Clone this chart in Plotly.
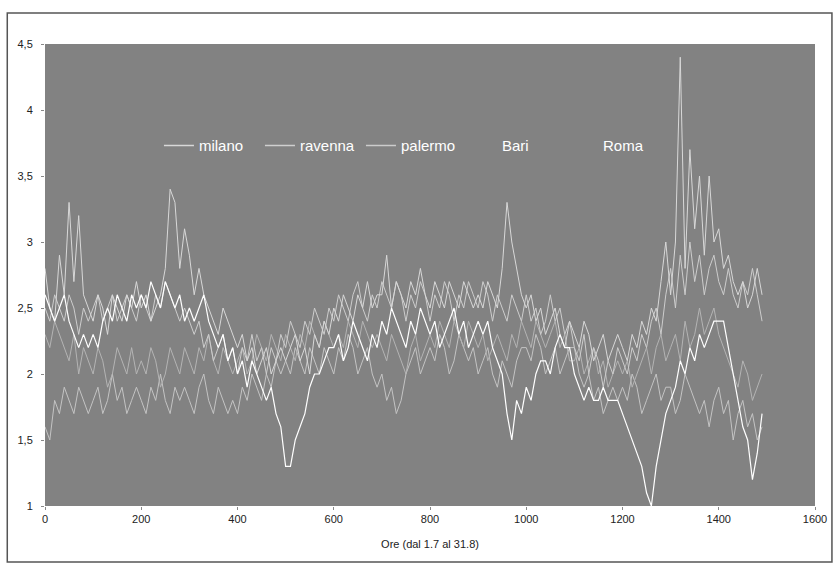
import plotly.graph_objects as go

hours = list(range(0, 1500, 10))

milano = [
    2.6, 2.5, 2.4, 2.5, 2.6, 2.4, 2.3, 2.2, 2.3, 2.2,
    2.3, 2.2, 2.4, 2.5, 2.4, 2.6, 2.5, 2.4, 2.6, 2.5,
    2.6, 2.5, 2.7, 2.6, 2.5, 2.7, 2.6, 2.5, 2.6, 2.4,
    2.5, 2.4, 2.5, 2.6, 2.4, 2.3, 2.2, 2.3, 2.1, 2.2,
    2.0, 2.1, 1.9, 2.1, 2.0, 1.9, 1.8, 1.9, 1.7, 1.6,
    1.3, 1.3, 1.5, 1.6, 1.7, 1.9, 2.0, 2.0, 2.1, 2.2,
    2.2, 2.3, 2.1, 2.2, 2.4, 2.3, 2.2, 2.1, 2.3, 2.2,
    2.4, 2.3, 2.5, 2.4, 2.3, 2.2, 2.4, 2.3, 2.5, 2.4,
    2.3, 2.4, 2.2, 2.3, 2.4, 2.5, 2.3, 2.4, 2.2, 2.3,
    2.4, 2.3, 2.4, 2.2, 2.1, 2.0, 1.7, 1.5, 1.8, 1.7,
    1.9, 1.8, 2.0, 2.1, 2.1, 2.0, 2.2, 2.3, 2.2, 2.2,
    2.0, 1.9, 1.8, 1.9, 1.8, 1.8, 1.9, 1.8, 1.8, 1.8,
    1.7, 1.6, 1.5, 1.4, 1.3, 1.1, 1.0, 1.3, 1.5, 1.7,
    1.8, 1.9, 2.1, 2.0, 2.2, 2.1, 2.3, 2.2, 2.3, 2.4,
    2.4, 2.4, 2.2, 2.0, 1.8, 1.6, 1.5, 1.2, 1.4, 1.7,
]

ravenna = [
    2.8, 2.5, 2.4, 2.9, 2.6, 3.3, 2.7, 3.2, 2.6, 2.5,
    2.4, 2.6, 2.5, 2.3, 2.6, 2.5, 2.4, 2.6, 2.5, 2.7,
    2.5, 2.6, 2.4, 2.5, 2.6, 2.8, 3.4, 3.3, 2.8, 3.1,
    2.9, 2.6, 2.8, 2.6, 2.5, 2.4, 2.3, 2.5, 2.4, 2.3,
    2.2, 2.3, 2.1, 2.2, 2.0, 2.1, 2.2, 2.0, 2.1, 2.2,
    2.1, 2.2, 2.3, 2.1, 2.2, 2.0, 2.3, 2.2, 2.4, 2.3,
    2.5, 2.4, 2.6, 2.5, 2.4, 2.6, 2.5, 2.7, 2.5, 2.6,
    2.6, 2.9, 2.5, 2.7, 2.6, 2.5, 2.7, 2.6, 2.8, 2.6,
    2.5, 2.7, 2.6, 2.5, 2.7, 2.6, 2.5, 2.7, 2.6, 2.5,
    2.6, 2.5, 2.7, 2.6, 2.5, 2.8, 3.3, 3.0, 2.8, 2.6,
    2.5, 2.6, 2.4, 2.5, 2.3, 2.4, 2.5, 2.3, 2.2, 2.4,
    2.3, 2.2, 2.4, 2.3, 2.1, 2.2, 2.3, 2.1, 2.2, 2.3,
    2.2, 2.1, 2.3, 2.2, 2.4, 2.3, 2.5, 2.4, 2.7, 3.0,
    2.6, 3.0, 4.4, 2.8, 3.7, 3.1, 3.5, 2.9, 3.5, 3.0,
    3.1, 2.8, 2.9, 2.7, 2.6, 2.7, 2.5, 2.6, 2.8, 2.6,
]

palermo = [
    1.6, 1.5, 1.8, 1.7, 1.9, 1.8, 1.7, 1.9, 1.8, 1.7,
    1.8, 1.9, 1.7, 1.8, 2.0, 1.8, 1.9, 1.7, 1.8, 1.9,
    1.8, 1.7, 1.9, 1.8, 2.0, 1.8, 1.7, 1.9, 1.8, 1.9,
    1.8, 1.7, 1.9, 2.0, 1.8, 1.7, 1.9, 1.8, 1.7, 1.8,
    1.7, 1.9, 1.8, 2.0, 1.9, 1.8, 2.0, 1.9, 2.1, 2.0,
    2.1, 2.0, 2.2, 2.1, 2.0, 2.2, 2.1, 2.0, 2.2, 2.1,
    2.0, 2.2, 2.1, 2.3, 2.2, 2.0, 2.1, 2.2, 2.0, 1.9,
    2.0, 1.8, 1.9, 1.7, 1.8, 2.0, 2.1, 2.2, 2.0, 2.1,
    2.2, 2.1, 2.3, 2.2, 2.0, 2.1, 2.3, 2.2, 2.1, 2.2,
    2.0, 2.1, 2.2, 2.0, 1.9, 2.1, 2.0, 1.9, 2.1, 2.2,
    2.2, 2.1, 2.3, 2.2, 2.0, 2.1, 2.2, 2.0, 2.1, 2.2,
    2.2, 2.0, 1.9, 2.0, 1.8, 1.9, 1.7, 1.8, 1.9, 1.8,
    1.9, 1.8, 2.0, 1.9, 1.7, 1.8, 1.9, 2.0, 1.8, 1.9,
    1.9, 1.7, 1.8, 2.0, 1.9, 1.8, 1.7, 1.8, 1.6, 1.8,
    1.9, 1.7, 1.8, 1.5, 1.7, 1.8, 1.6, 1.7, 1.5, 1.6,
]

bari = [
    2.3, 2.2, 2.4, 2.3, 2.2, 2.1, 2.3, 2.0, 2.2, 2.1,
    2.0, 2.2, 2.1, 1.9, 2.0, 2.2, 2.1, 2.0, 2.2, 2.0,
    2.1, 2.0, 2.2, 2.1, 1.9, 2.0, 2.2, 2.1, 2.0, 2.2,
    2.1, 2.0, 2.2, 2.1, 2.3, 2.1, 2.0, 2.2, 2.1, 2.0,
    2.1, 2.2, 2.0, 2.1, 2.3, 2.2, 2.1, 2.3, 2.2, 2.1,
    2.3, 2.2, 2.1, 2.3, 2.2, 2.4, 2.3, 2.2, 2.4, 2.3,
    2.2, 2.3, 2.2, 2.4, 2.3, 2.2, 2.4, 2.3, 2.2, 2.3,
    2.2, 2.1, 2.3, 2.2, 2.1, 2.0, 2.2, 2.3, 2.1, 2.2,
    2.3, 2.2, 2.4, 2.3, 2.2, 2.4, 2.3, 2.2, 2.4, 2.3,
    2.2, 2.3, 2.1, 2.2, 2.3, 2.2, 2.1, 2.3, 2.2, 2.4,
    2.3, 2.2, 2.4, 2.3, 2.2, 2.3, 2.4, 2.2, 2.3, 2.1,
    2.1, 2.2, 2.0, 2.1, 2.2, 2.0, 2.1, 1.9, 2.0, 2.1,
    2.0, 2.1, 1.9, 2.0, 2.1, 2.2, 2.0, 2.2, 2.3, 2.1,
    2.2, 2.3, 2.1, 2.4, 2.2, 2.3, 2.5, 2.3, 2.4, 2.5,
    2.3, 2.2, 2.1, 2.0, 1.9, 2.1, 2.0, 1.8, 1.9, 2.0,
]

roma = [
    2.5, 2.4, 2.6, 2.5, 2.4, 2.6, 2.5, 2.3, 2.5, 2.4,
    2.5, 2.6, 2.4, 2.5, 2.6, 2.4, 2.5, 2.6, 2.5, 2.4,
    2.6, 2.5, 2.4, 2.6, 2.5, 2.7, 2.6, 2.5, 2.4, 2.5,
    2.4, 2.3, 2.4, 2.2, 2.3, 2.1, 2.2, 2.3, 2.1, 2.2,
    2.0, 2.2, 2.1, 2.3, 2.1, 2.2, 2.0, 2.2, 2.1, 2.3,
    2.2, 2.4, 2.3, 2.2, 2.4, 2.3, 2.5, 2.4, 2.3, 2.5,
    2.4, 2.6, 2.5, 2.4, 2.6, 2.7, 2.5, 2.4, 2.6, 2.5,
    2.7, 2.6, 2.5, 2.7, 2.6, 2.4, 2.6, 2.5, 2.7, 2.6,
    2.4, 2.6, 2.5, 2.7, 2.6, 2.4, 2.6, 2.5, 2.7, 2.6,
    2.5, 2.7, 2.6, 2.4, 2.6, 2.5, 2.4, 2.6, 2.5, 2.4,
    2.6, 2.4, 2.5, 2.3, 2.4, 2.6, 2.4, 2.5, 2.3, 2.4,
    2.2, 2.1, 2.3, 2.0, 2.2, 2.1, 1.9, 2.1, 2.0, 2.2,
    2.1, 2.0, 2.2, 2.1, 2.3, 2.2, 2.4, 2.5, 2.3, 2.6,
    2.8, 2.5, 2.9, 2.6, 3.0, 2.7, 2.9, 2.6, 2.8, 2.9,
    2.7, 2.6, 2.8, 2.6, 2.5, 2.7, 2.6, 2.8, 2.6, 2.4,
]

x_ticks = [0, 200, 400, 600, 800, 1000, 1200, 1400, 1600]
y_ticks = [1, 1.5, 2, 2.5, 3, 3.5, 4, 4.5]

BG = "#828282"

fig = go.Figure()

# lines drawn back to front
fig.add_trace(go.Scatter(x=hours, y=palermo, mode="lines", name="palermo",
                         line=dict(color="#c4c4c4", width=1), showlegend=False))
fig.add_trace(go.Scatter(x=hours, y=bari, mode="lines", name="Bari",
                         line=dict(color="#b4b4b4", width=1), showlegend=False))
fig.add_trace(go.Scatter(x=hours, y=roma, mode="lines", name="Roma",
                         line=dict(color="#cdcdcd", width=1), showlegend=False))
fig.add_trace(go.Scatter(x=hours, y=ravenna, mode="lines", name="ravenna",
                         line=dict(color="#d8d8d8", width=1), showlegend=False))
fig.add_trace(go.Scatter(x=hours, y=milano, mode="lines", name="milano",
                         line=dict(color="#ffffff", width=1.2), showlegend=False))

# legend entries
legend_items = [("milano", "#d8d8d8"), ("ravenna", "#cfcfcf"), ("palermo", "#cccccc"),
                ("Bari", BG), ("Roma", BG)]
for name, col in legend_items:
    fig.add_trace(go.Scatter(x=[None], y=[None], mode="lines", name=name,
                             line=dict(color=col, width=1.5)))

fig.update_layout(
    width=839, height=565,
    margin=dict(l=45, r=21, t=44, b=59),
    paper_bgcolor="white",
    plot_bgcolor=BG,
    separators=",.",
    font=dict(family="Liberation Sans, Arial", size=11, color="#222222"),
    legend=dict(orientation="h", x=0.148, y=0.78, xanchor="left", yanchor="middle",
                bgcolor="rgba(0,0,0,0)", font=dict(color="white", size=15),
                entrywidth=56, entrywidthmode="pixels", itemwidth=30,
                traceorder="normal"),
    xaxis=dict(range=[0, 1600], tickvals=x_ticks, showgrid=False, zeroline=False,
               ticks="outside", ticklen=3, tickcolor="#888888",
               title=dict(text="Ore (dal 1.7 al 31.8)", font=dict(size=11), standoff=16),
               showline=False),
    yaxis=dict(range=[1, 4.5], tickvals=y_ticks, showgrid=False, zeroline=False,
               ticks="outside", ticklen=3, tickcolor="#888888", showline=False,
               ticklabelstandoff=6),
    shapes=[dict(type="rect", xref="paper", yref="paper",
                 x0=-0.049, x1=1.022, y0=-0.121, y1=1.067,
                 line=dict(color="#555555", width=1.5), fillcolor="rgba(0,0,0,0)",
                 layer="below")],
)

fig.write_html("out.html")
